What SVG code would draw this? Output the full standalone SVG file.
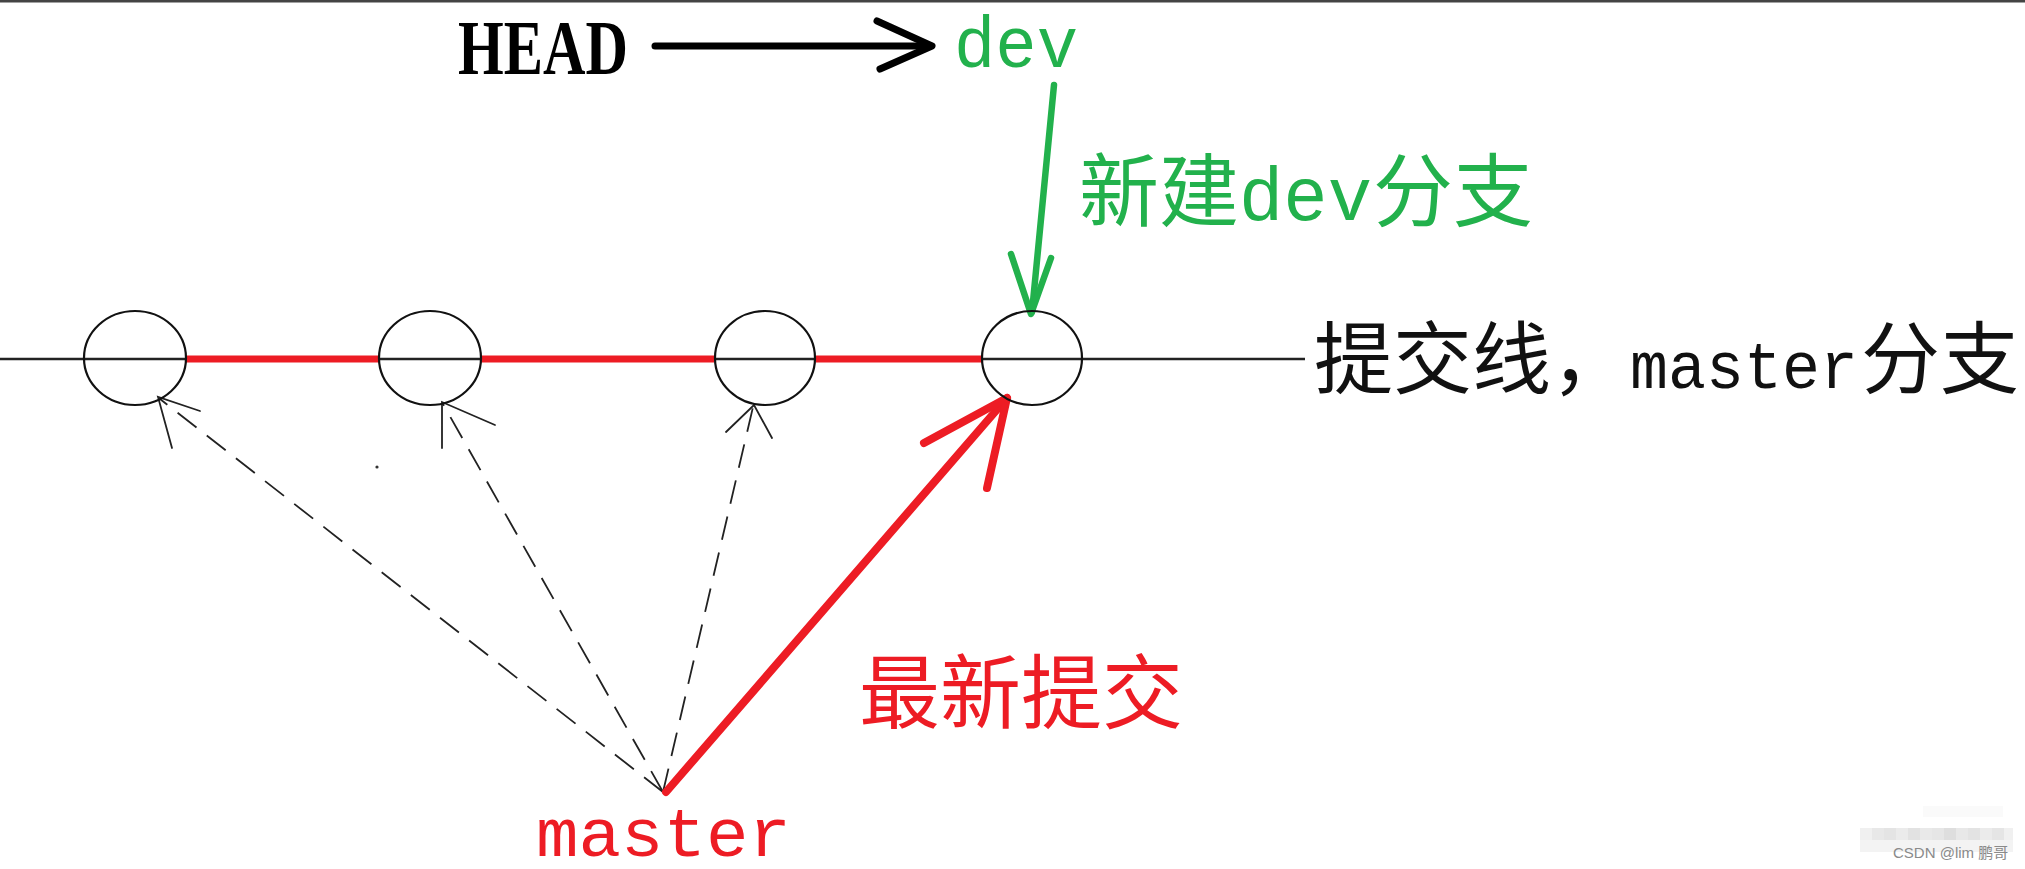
<svg xmlns="http://www.w3.org/2000/svg" width="2025" height="869" viewBox="0 0 2025 869">
<defs>
<style>
.commit{fill:none;stroke:#111;stroke-width:2.2}
.dash{fill:none;stroke:#222;stroke-width:1.8;stroke-dasharray:24 13}
.thin{fill:none;stroke:#222;stroke-width:1.8;stroke-linecap:round}
.red{fill:none;stroke:#ed1c24;stroke-width:8;stroke-linecap:round;stroke-linejoin:round}
.green{fill:none;stroke:#22b14c;stroke-width:6.5;stroke-linecap:round;stroke-linejoin:round}
.blk{fill:none;stroke:#000;stroke-width:7;stroke-linecap:round;stroke-linejoin:round}
.cjk{font-family:"Noto Sans CJK SC","Noto Sans CJK JP",sans-serif}
.mono{font-family:"Liberation Mono","Noto Sans CJK SC",monospace}
</style>
</defs>
<rect x="0" y="0" width="2025" height="869" fill="#fff"/>
<rect x="0" y="0" width="2025" height="2.5" fill="#444"/>

<g id="connectors">
  <line x1="0" y1="359" x2="1305" y2="359" stroke="#222" stroke-width="2.6"/>
  <g id="history-red">
    <line x1="186" y1="359" x2="379" y2="359" stroke="#ed1c24" stroke-width="7"/>
    <line x1="481" y1="359" x2="714" y2="359" stroke="#ed1c24" stroke-width="7"/>
    <line x1="816" y1="359" x2="982" y2="359" stroke="#ed1c24" stroke-width="7"/>
  </g>
  <g id="head-arrow">
    <line x1="655" y1="46" x2="928" y2="46" class="blk"/>
    <polyline points="877,21 932,46 880,69" class="blk"/>
  </g>
  <g id="dev-arrow">
    <line x1="1054" y1="85" x2="1032" y2="312" class="green"/>
    <polyline points="1011,254 1031,314 1051,258" class="green"/>
  </g>
  <g id="old-pointers">
    <line x1="663" y1="792" x2="160" y2="399" class="dash"/>
    <polyline points="200,411 158,397 172,448" class="thin"/>
    <line x1="663" y1="792" x2="443" y2="404" class="dash"/>
    <polyline points="495,425 442,402 442,448" class="thin"/>
    <line x1="663" y1="792" x2="753" y2="407" class="dash"/>
    <polyline points="726,432 754,405 772,438" class="thin"/>
    <circle cx="377" cy="467" r="1.6" fill="#333"/>
  </g>
  <g id="master-arrow">
    <line x1="666" y1="792" x2="1007" y2="398" class="red"/>
    <polyline points="924,443 1007,398 987,488" class="red"/>
  </g>
</g>

<g id="commit1"><ellipse cx="135" cy="358" rx="51" ry="47" class="commit"/></g>
<g id="commit2"><ellipse cx="430" cy="358" rx="51" ry="47" class="commit"/></g>
<g id="commit3"><ellipse cx="765" cy="358" rx="50" ry="47" class="commit"/></g>
<g id="commit4"><ellipse cx="1032" cy="358" rx="50" ry="47" class="commit"/></g>

<g id="head">
  <text x="458" y="74" font-family="Liberation Serif, serif" font-weight="bold" font-size="78" textLength="170" lengthAdjust="spacingAndGlyphs" fill="#000">HEAD</text>
</g>
<g id="dev">
  <text x="954" y="67" class="mono" font-size="72" textLength="124" lengthAdjust="spacingAndGlyphs" fill="#22b14c">dev</text>
</g>
<g id="label-new-dev">
  <text y="220" class="cjk" font-size="80" fill="#22b14c"><tspan x="1079">新建</tspan><tspan x="1239" class="mono" font-size="76" textLength="133" lengthAdjust="spacingAndGlyphs">dev</tspan><tspan x="1373">分支</tspan></text>
</g>
<g id="label-commit-line">
  <text x="1314" y="388" class="cjk" font-size="79" fill="#111">提交线，</text>
  <text x="1630" y="388" class="mono" font-size="66" textLength="228" lengthAdjust="spacingAndGlyphs" fill="#111">master</text>
  <text x="1861" y="388" class="cjk" font-size="79" fill="#111">分支</text>
</g>
<g id="label-latest">
  <text x="859" y="722" class="cjk" font-size="81" fill="#ed1c24">最新提交</text>
</g>
<g id="master">
  <text x="536" y="856" class="mono" font-size="68" textLength="255" lengthAdjust="spacingAndGlyphs" fill="#ed1c24">master</text>
</g>

<g id="watermark">
  <rect x="1860" y="828" width="12" height="12" fill="#f0f0f0"/>
  <rect x="1872" y="828" width="12" height="12" fill="#e8e8e8"/>
  <rect x="1884" y="828" width="12" height="12" fill="#e4e4e4"/>
  <rect x="1896" y="828" width="12" height="12" fill="#ebebeb"/>
  <rect x="1908" y="828" width="12" height="12" fill="#e2e2e2"/>
  <rect x="1920" y="828" width="12" height="12" fill="#e9e9e9"/>
  <rect x="1932" y="828" width="12" height="12" fill="#e6e6e6"/>
  <rect x="1944" y="828" width="12" height="12" fill="#dedede"/>
  <rect x="1956" y="828" width="12" height="12" fill="#e8e8e8"/>
  <rect x="1968" y="828" width="12" height="12" fill="#e3e3e3"/>
  <rect x="1980" y="828" width="12" height="12" fill="#ebebeb"/>
  <rect x="1992" y="828" width="12" height="12" fill="#e5e5e5"/>
  <rect x="2004" y="828" width="9" height="12" fill="#f0f0f0"/>
  <rect x="1860" y="840" width="153" height="12" fill="#f3f3f3"/>
  <rect x="1923" y="806" width="80" height="11" fill="#fafafa"/>
  <text x="1893" y="858" font-family="Liberation Sans, 'Noto Sans CJK SC', sans-serif" font-size="15" fill="#8a8a8a">CSDN @lim 鹏哥</text>
</g>
</svg>
